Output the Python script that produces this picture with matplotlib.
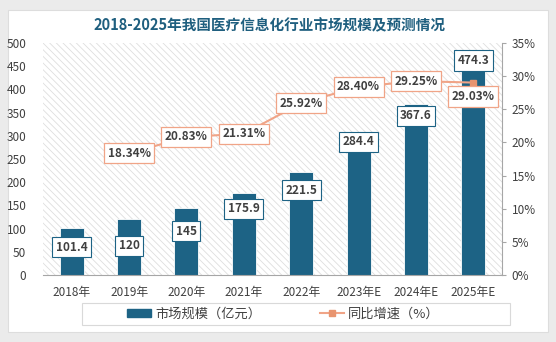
import matplotlib
matplotlib.use("Agg")
import matplotlib.pyplot as plt
from matplotlib.patches import Rectangle
from matplotlib.lines import Line2D
from matplotlib.patches import Patch

plt.rcParams['font.family'] = ['Noto Sans CJK SC', 'DejaVu Sans']
plt.rcParams['hatch.linewidth'] = 0.6

categories = ["2018年", "2019年", "2020年", "2021年", "2022年", "2023年E", "2024年E", "2025年E"]
market_size = [101.4, 120, 145, 175.9, 221.5, 284.4, 367.6, 474.3]
growth_cats = categories[1:]
growth_rate = [18.34, 20.83, 21.31, 25.92, 28.40, 29.25, 29.03]
title = "2018-2025年我国医疗信息化行业市场规模及预测情况"

# label offsets (points, relative to bar top) - style only
bar_label_offsets = [-14, -19, -17, -11, -13, 1, -8, -4]
line_label_offsets = [0, 0, 0, 0, 0, 0, -10]

bar_color = "#1d6385"
line_color = "#f0a487"
marker_color = "#e8946f"
text_color = "#404040"

fig = plt.figure(figsize=(5.56, 3.42), dpi=100)
fig.patch.set_facecolor("#ebebeb")
fig.patches.append(Rectangle((8/556, 1-332/342), 540/556, 322/342, transform=fig.transFigure,
                             facecolor="white", edgecolor="#dddddd", lw=0.8, zorder=-10))

ax = fig.add_axes([43/556, 1-275/342, 459/556, 232/342])
ax.set_facecolor("none")
ax.add_patch(Rectangle((0, 0), 1, 1, transform=ax.transAxes, facecolor="white",
                       edgecolor="#dedede", hatch="\\\\\\\\\\", lw=0, zorder=0))

x = list(range(len(categories)))
bars = ax.bar(x, market_size, width=0.42, color=bar_color, zorder=2,
              edgecolor="white", linewidth=0.6)
ax.set_xlim(-0.5, len(categories) - 0.5)
ax.set_ylim(0, 500)
ax.set_yticks(range(0, 501, 50))
ax.set_xticks(x)
ax.set_xticklabels(categories)
for s in ["top", "left", "right"]:
    ax.spines[s].set_visible(False)
ax.spines["bottom"].set_color("#a6a6a6")
ax.tick_params(axis="y", length=0, labelsize=8.5, colors=text_color, pad=12)
ax.tick_params(axis="x", length=0, labelsize=8.5, colors=text_color, pad=8)

for xi, v, off in zip(x, market_size, bar_label_offsets):
    ax.annotate(f"{v:g}", (xi, v), xytext=(0, off), textcoords="offset points",
                ha="center", va="center", fontsize=8.5, fontweight="bold", color=text_color,
                bbox=dict(boxstyle="square,pad=0.3", fc="white", ec=bar_color, lw=0.8), zorder=5)

ax2 = ax.twinx()
ax2.set_ylim(0, 35)
ax2.set_yticks(range(0, 36, 5))
ax2.set_yticklabels([f"{t}%" for t in range(0, 36, 5)])
for s in ["top", "left", "bottom"]:
    ax2.spines[s].set_visible(False)
ax2.spines["right"].set_color("#a6a6a6")
ax2.tick_params(axis="y", length=3, colors=text_color, labelsize=8.5, pad=4)
ax2.tick_params(axis="y", color="#a6a6a6")
gx = [categories.index(c) for c in growth_cats]
ax2.plot(gx, growth_rate, color=line_color, lw=1.5, marker="s", markersize=5,
         markerfacecolor=marker_color, markeredgecolor=marker_color, zorder=3)
for xi, v, off in zip(gx, growth_rate, line_label_offsets):
    ax2.annotate(f"{v:.2f}%", (xi, v), xytext=(0, off), textcoords="offset points",
                 ha="center", va="center", fontsize=8.5, fontweight="bold", color=text_color,
                 bbox=dict(boxstyle="square,pad=0.3", fc="white", ec=line_color, lw=0.9), zorder=5)

fig.text(0.485, 1-25/342, title, ha="center", va="center", fontsize=10.5,
         fontweight="bold", color="#1f5f7f")

# legend
fig.patches.append(Rectangle((82/556, 1-325/342), 428/556, 22/342, transform=fig.transFigure,
                             facecolor="white", edgecolor="#d9d9d9", lw=0.8, zorder=-5))
handles = [Patch(facecolor=bar_color, edgecolor=bar_color),
           Line2D([0], [0], color=line_color, lw=1.5, marker="s", markersize=5,
                  markerfacecolor=marker_color, markeredgecolor=marker_color)]
leg = fig.legend(handles, ["市场规模（亿元）", "同比增速（%）"], loc="center",
                 bbox_to_anchor=(0.51, 1-314/342), ncol=2, frameon=False,
                 fontsize=9.5, columnspacing=4.5, handlelength=1.8, handleheight=0.5,
                 handletextpad=0.3, labelcolor=text_color)

fig.savefig("out.png", dpi=100, facecolor=fig.get_facecolor())
